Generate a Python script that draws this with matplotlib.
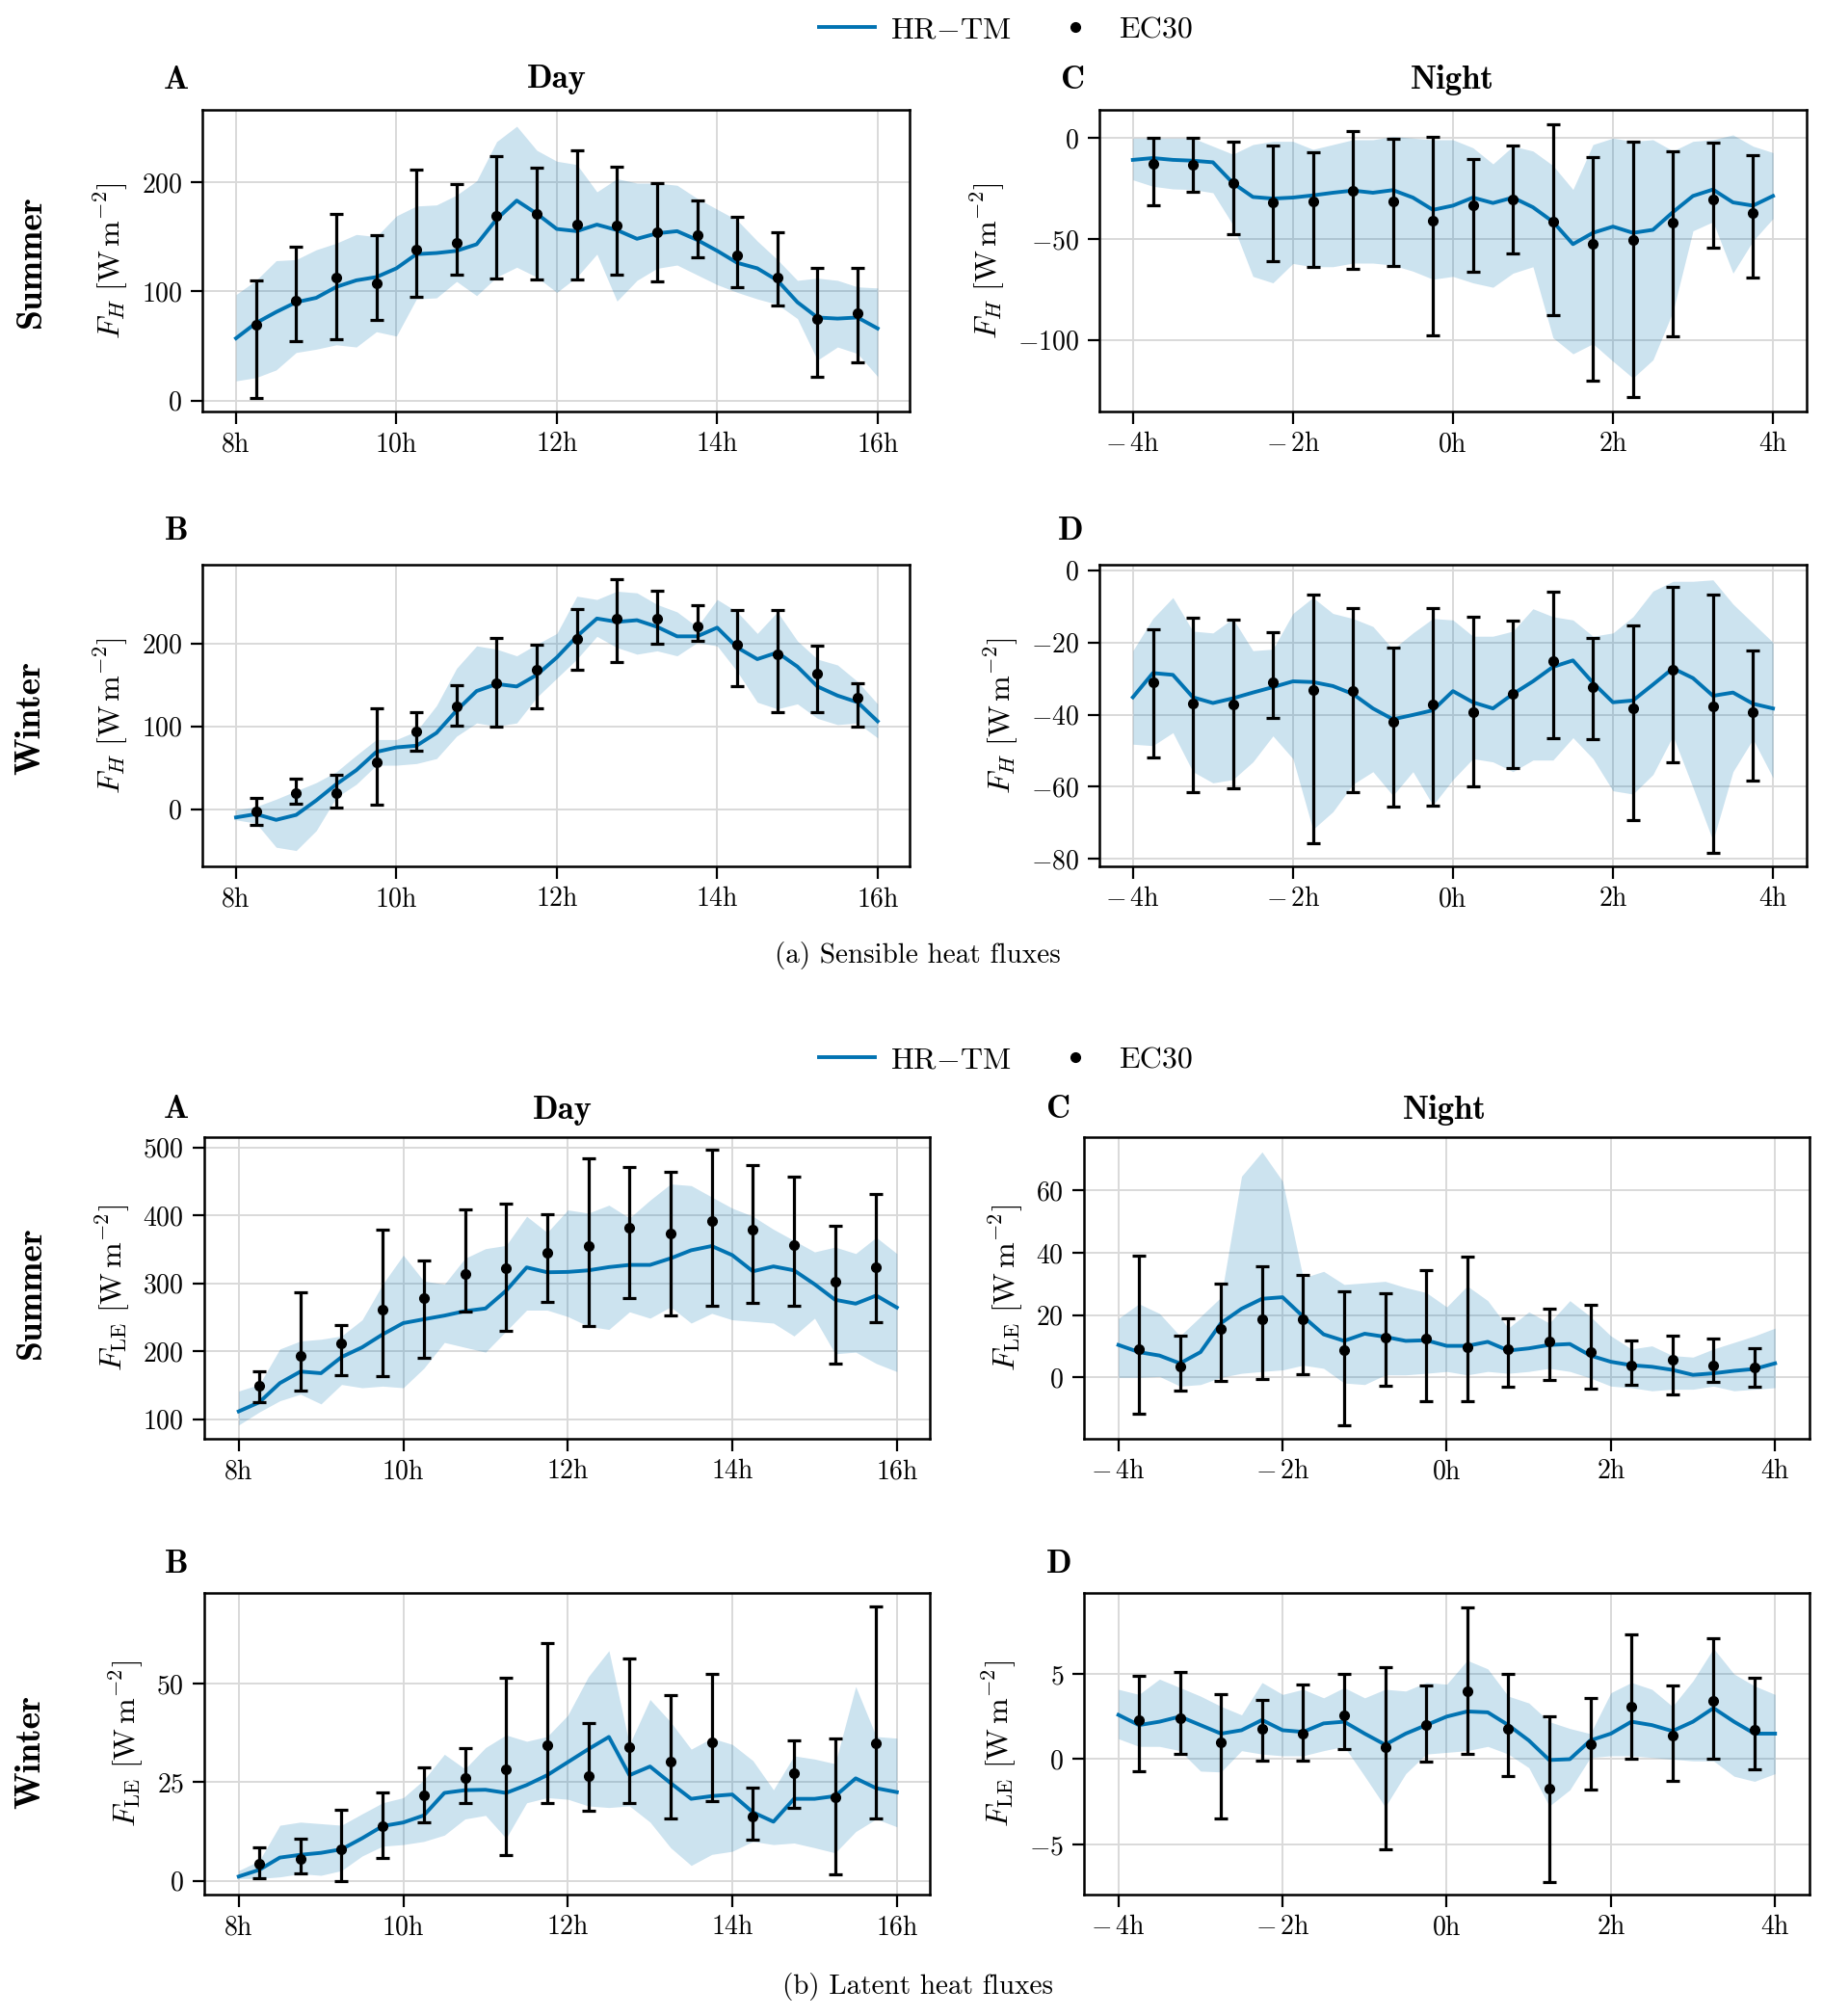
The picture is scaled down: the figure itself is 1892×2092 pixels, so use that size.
import numpy as np
import matplotlib
matplotlib.use("Agg")
import matplotlib.pyplot as plt
from matplotlib.lines import Line2D

plt.rcParams['font.family'] = 'cmr10'
plt.rcParams['mathtext.fontset'] = 'cm'
plt.rcParams['axes.unicode_minus'] = False
plt.rcParams['axes.formatter.use_mathtext'] = True

BLUE = '#0173B2'

# model time grid (15 min) and EC30 half-hour centres
t_day = np.arange(8, 16.01, 0.25)
t_night = np.arange(-4, 4.01, 0.25)
ec_day = np.arange(8.25, 16, 0.5)
ec_night = np.arange(-3.75, 4, 0.5)

# ---- sensible heat, summer day
sh_sd_line = [57, 71, 81, 90, 94, 104, 110, 113, 121, 134, 135, 137, 143, 166, 183, 171, 157,
              155, 161, 156, 148, 153, 155, 147, 137, 126, 121, 110, 90, 76, 75, 76, 66]
sh_sd_hi = [97, 110, 128, 129, 138, 144, 152, 150, 169, 178, 179, 188, 201, 237, 251, 229, 219,
            216, 191, 203, 199, 199, 197, 185, 175, 165, 146, 129, 110, 112, 110, 104, 103]
sh_sd_lo = [18, 21, 28, 44, 47, 51, 49, 63, 59, 93, 94, 109, 96, 113, 122, 113, 99,
            113, 134, 91, 110, 121, 124, 115, 106, 99, 93, 88, 75, 37, 49, 43, 22]
sh_sd_ec = [69, 91, 113, 107, 138, 144, 169, 171, 161, 160, 154, 151, 133, 113, 75, 80]
sh_sd_ec_hi = [110, 141, 171, 151, 211, 198, 224, 213, 229, 214, 199, 183, 168, 154, 121, 121]
sh_sd_ec_lo = [2, 54, 56, 74, 95, 115, 112, 111, 111, 115, 109, 131, 104, 87, 22, 35]

# ---- sensible heat, winter day
sh_wd_line = [-10, -6, -13, -7, 10.5, 30, 47, 69, 74.5, 76.5, 92, 119, 142.5, 151, 148, 162, 183,
              208.5, 230, 226, 228, 220, 208.5, 208.5, 219, 195, 181, 189, 172, 148, 137, 129, 106]
sh_wd_hi = [-1, 3, 12, 22, 32, 45, 65, 84, 84, 94, 125, 170, 197, 193, 185, 199, 212,
            257, 253, 263, 261, 247, 238, 220, 253, 238, 212, 238, 203, 181, 174, 154, 127]
sh_wd_lo = [-13, -17, -46, -50, -26, 14, 30, 53, 53, 55, 61, 88, 104, 100, 104, 135, 158,
            181, 208.5, 195, 187, 191, 185, 201, 197, 166, 129, 121, 127, 109.5, 102, 104, 86]
sh_wd_ec = [-2.3, 19, 19, 57, 94, 124, 152, 168, 205, 230, 230, 220, 198, 187, 163, 134]
sh_wd_ec_hi = [13, 36.5, 41.5, 122, 116.5, 149, 207, 198, 242, 278, 264, 246, 240, 240, 197, 152]
sh_wd_ec_lo = [-19, 6, 2, 5, 70, 101, 99, 122, 168, 177, 200, 203, 148, 116.5, 116.5, 100]

# ---- sensible heat, summer night
sh_sn_line = [-10.8, -9.9, -10.8, -11.2, -12, -22.3, -29.2, -30, -29.5, -28.4, -27.1, -26, -27.1,
              -25.8, -29.5, -35.6, -33.5, -29.5, -32.2, -29.5, -34.3, -41.5, -52.6, -47, -43.9,
              -47, -45.5, -36.7, -28.7, -25.5, -31.9, -33.5, -28.7]
sh_sn_hi = [0, 0, 0, 0, -4, -8, -3.2, -1.6, -1.6, -5.6, -3.2, -0.8, -0.8, 0.8, 0, -0.8, -0.8,
            -4.8, -12.8, -4, -6.4, -13.6, -25.5, -3.2, 0, -1.6, -0.8, -6.4, -1.6, -0.8, 1.6, -4, -7.2]
sh_sn_lo = [-20.7, -23.9, -25.2, -25.5, -27.1, -43, -68.6, -71.8, -62.2, -63.8, -63.8, -62, -62,
            -63, -66, -70, -68.6, -71.8, -74, -67, -63.8, -99, -107, -102, -110.7, -119, -110,
            -86, -46, -41.5, -67, -51, -39.9]
sh_sn_ec = [-12.8, -13.2, -22.3, -31.9, -31.4, -26.3, -31.6, -41.1, -33.2, -30.3, -41.5, -52.6,
            -50.7, -41.8, -30.6, -37.2]
sh_sn_ec_hi = [0, 0, -1.6, -3.7, -7.2, 3.5, -0.5, 0.5, -10.4, -3.5, 6.7, -9.2, -1.6, -6.4, -2.1, -8.3]
sh_sn_ec_lo = [-33.5, -26.6, -47.5, -61, -64, -65, -63.5, -97.8, -66.2, -57.4, -87.7, -120.4,
               -128.4, -98.1, -54.2, -69]

# ---- sensible heat, winter night
sh_wn_line = [-35.2, -28.5, -29, -35.2, -36.8, -35.5, -33.9, -32.4, -30.8, -31, -32.1, -34.3, -38.3,
              -41.3, -40.1, -38.8, -33.5, -36.6, -38.3, -34.3, -30.8, -26.8, -25, -31.2, -36.6,
              -36.1, -31.7, -27.2, -29.9, -34.8, -33.9, -37, -38.3]
sh_wn_hi = [-22.3, -13.4, -7.6, -16.9, -17.4, -13.4, -22.3, -21.9, -12, -7.6, -12, -13.4, -15.6,
            -21.9, -17.4, -13.4, -13.8, -18.3, -18.3, -16.9, -10.7, -12.9, -13.8, -18.3, -17.4,
            -12.9, -5.8, -3.1, -3.1, -2.7, -9.4, -14.7, -20]
sh_wn_lo = [-48.2, -48.6, -45, -55.8, -58.9, -58, -53.1, -45.9, -52.2, -71.8, -66.9, -59.3, -55.8,
            -62.4, -55.8, -65.1, -58, -52.2, -53.1, -55.8, -52.6, -52.6, -46.4, -52.2, -61.1, -62,
            -56.6, -45.9, -60.2, -74.9, -55.8, -46.8, -57.5]
sh_wn_ec = [-31, -36.8, -37.3, -31, -33.3, -33.5, -41.9, -37.3, -39.3, -34.3, -25.2, -32.4, -38.2,
            -27.6, -37.6, -39.4]
sh_wn_ec_hi = [-16.5, -13.2, -13.6, -17.1, -6.9, -10.4, -21.4, -10.4, -12.8, -14.1, -6, -18.7,
               -15.3, -4.6, -6.7, -22.3]
sh_wn_ec_lo = [-52, -61.6, -60.5, -41, -75.6, -61.6, -65.6, -65.3, -60, -54.7, -46.6, -46.7,
               -69.3, -53.3, -78.2, -58.3]

# ---- latent heat, summer day
le_sd_line = [111.4, 124.8, 153, 170, 167.6, 191.4, 205.7, 224.8, 241.4, 247, 252.4, 259, 262.9,
              289, 323.3, 316.2, 316.7, 319, 323.8, 327, 327, 336.7, 348.6, 354.8, 341.4, 317.6,
              324.8, 319, 298.6, 275.7, 270, 281.9, 264.3]
le_sd_hi = [141.4, 151, 203.3, 215, 217.6, 222.4, 246.2, 298.6, 341.4, 303.3, 298.6, 336.7, 351,
            355.7, 398.6, 374.8, 408, 403.3, 415, 396, 422.4, 446.2, 443.8, 427, 410.5, 398.6,
            379.5, 362.9, 346.2, 353.3, 343.8, 367.6, 343.8]
le_sd_lo = [91.4, 110.5, 127, 136.7, 122.4, 151, 146.2, 148.6, 146.2, 174.8, 212.9, 205.7, 198.6,
            229.5, 260.5, 260.5, 251, 236.7, 232, 258, 248.6, 265.2, 241.4, 255.7, 246.2, 243.8,
            241.4, 222.4, 248.6, 196.2, 198.6, 181.9, 170]
le_sd_ec = [148.6, 193.8, 211.4, 261.4, 278, 314.3, 322.4, 344.8, 354.8, 381.9, 373.3, 391.4,
            378.6, 355.7, 302.4, 323.8]
le_sd_ec_hi = [170, 286.7, 238, 379.5, 332.9, 409, 417.6, 401, 484.3, 471.4, 464.3, 496, 473.8,
               456.7, 384.3, 431]
le_sd_ec_lo = [124.8, 142.4, 165, 162.9, 190, 258, 229.5, 272.4, 236.7, 278.6, 253.3, 266.2,
               271.4, 266.7, 181.9, 242.9]

# ---- latent heat, winter day
le_wd_line = [1.1, 2.8, 5.9, 6.6, 7.1, 8, 10.8, 13.9, 14.8, 16.6, 22.3, 23, 23.1, 22.3, 24.3, 26.8,
              30.1, 33.4, 36.5, 26.8, 29, 24.8, 20.8, 21.5, 21.9, 17.4, 15, 20.8, 20.8, 21.5, 26,
              23.5, 22.5]
le_wd_hi = [2.6, 5.1, 14.1, 14.9, 14.5, 14.1, 17, 19.8, 21.1, 25.6, 32.1, 28.4, 33.8, 37, 35.4,
            36.6, 42, 51.8, 58.4, 34.6, 46, 40.3, 33.4, 36.2, 34.6, 30.5, 23.1, 31.7, 30.9, 29.7,
            49.3, 36.6, 36.2]
le_wd_lo = [0.6, 0.6, 1, 1.8, 1.4, 2.6, 6.3, 8.8, 9.2, 10, 11.6, 15.7, 16.6, 10.8, 19.8, 21.1,
            20.7, 19, 18.6, 19, 14.9, 8.4, 3.9, 6.7, 7.5, 10, 9.2, 9.6, 8.4, 7.1, 12.5, 15.7, 13.7]
le_wd_ec = [4.3, 5.5, 8, 13.9, 21.7, 26, 28.3, 34.4, 26.6, 33.9, 30.2, 35.2, 16.3, 27.4, 21.2, 34.8]
le_wd_ec_hi = [8.5, 10.8, 18, 22.5, 28.9, 33.6, 51.6, 60.2, 40.1, 56.5, 47, 52.6, 23.7, 35.6, 36, 69.6]
le_wd_ec_lo = [0.6, 1.8, -0.1, 5.7, 14.9, 19.8, 6.5, 19.7, 17.8, 19.8, 15.9, 20.2, 10.4, 18.4, 1.6, 15.9]

# ---- latent heat, summer night
le_sn_line = [10.4, 8.1, 7, 4.5, 8.1, 17.4, 22, 25.2, 25.7, 19.5, 13.8, 11.7, 14, 13, 11.7, 11.9,
              10.1, 10.1, 11.4, 8.6, 9.3, 10.4, 10.7, 7, 5, 3.9, 3.4, 2.4, 0.8, 1.3, 2.1, 2.7, 4.5]
le_sn_hi = [18.9, 23.6, 20.5, 13.3, 19.5, 25.7, 64.5, 72.3, 62.9, 31.9, 34, 29.8, 30.3, 30.8, 28.8,
            27.2, 22.6, 29.3, 24.6, 15.8, 21, 17.4, 24.6, 19.5, 13.3, 9.1, 10.1, 7, 6.5, 9.1, 11.2,
            13.3, 15.8]
le_sn_lo = [0, 0, 0.3, -2.8, -2.3, 0, 1.3, 1.9, 2.4, 3.9, 2.9, -1.8, -2.3, 0.8, 0.8, 1.3, 1.9, 0.8,
            1.9, 1.3, 1.9, 2.9, 1.9, -0.2, -2.8, -3.3, -4.3, -3.8, -3.8, -2.8, -4.3, -3.8, -3.3]
le_sn_ec = [8.9, 3.4, 15.5, 18.6, 18.6, 8.6, 12.7, 12.4, 9.6, 8.9, 11.4, 8.1, 3.9, 5.8, 3.7, 3.1]
le_sn_ec_hi = [38.9, 13.5, 30.1, 35.7, 32.9, 27.7, 26.9, 34.5, 38.6, 18.9, 22, 23.4, 11.7, 13.5, 12.5, 9.4]
le_sn_ec_lo = [-11.6, -4.1, -1, -0.4, 1.1, -15.5, -2.8, -7.7, -7.5, -3, -0.9, -3.6, -2.3, -5.6, -1.4, -3]

# ---- latent heat, winter night
le_wn_line = [2.6, 2.0, 2.2, 2.5, 2.0, 1.5, 1.7, 2.3, 1.7, 1.6, 2.1, 2.2, 1.5, 0.85, 1.5, 2.0, 2.5,
              2.8, 2.75, 2.0, 1.1, -0.05, 0.0, 1.1, 1.5, 2.2, 2.0, 1.65, 2.2, 3.0, 2.2, 1.5, 1.5]
le_wn_hi = [4.1, 3.8, 4.7, 4.2, 3.7, 3.1, 2.6, 4.5, 3.8, 4.1, 3.6, 4.2, 3.6, 4.1, 4.0, 4.5, 4.4, 5.8,
            5.3, 3.7, 3.3, 2.2, 1.8, 1.5, 3.9, 4.5, 4.1, 3.1, 4.6, 6.5, 5.0, 4.3, 3.8]
le_wn_lo = [1.2, 0.75, 0.75, 0.5, -0.7, -0.75, 0.5, 0.3, 0.2, 0.2, 0.5, 0.75, -1.0, -2.8, -0.85,
            0.3, 0.4, 0.5, 0.75, 0.3, -0.5, -2.75, -1.8, 0.1, 0.2, 0.2, 0.1, 0, -0.1, -0.1, -1.0,
            -1.3, -0.85]
le_wn_ec = [2.3, 2.4, 1.0, 1.8, 1.5, 2.6, 0.7, 2.0, 4.0, 1.8, -1.7, 0.9, 3.1, 1.4, 3.4, 1.7]
le_wn_ec_hi = [4.9, 5.1, 3.8, 3.5, 4.4, 5.0, 5.4, 4.3, 8.9, 5.0, 2.5, 3.6, 7.3, 4.3, 7.1, 4.8]
le_wn_ec_lo = [-0.7, 0.3, -3.5, -0.1, -0.1, 0.6, -5.3, -0.15, 0.3, -1.0, -7.2, -1.8, 0.05, -1.3, 0.05, -0.6]

day_ticks = [8, 10, 12, 14, 16]
day_labels = ['8h', '10h', '12h', '14h', '16h']
night_ticks = [-4, -2, 0, 2, 4]
night_labels = [r'$-\,$4h', r'$-\,$2h', '0h', '2h', '4h']

FS = 20
YL_H = r'$F_H\ [\mathrm{W\,m}^{-2}]$'
YL_LE = r'$F_{\mathrm{LE}}\ [\mathrm{W\,m}^{-2}]$'


def panel(fig, rect, t, line, lo, hi, te, ec, ec_lo, ec_hi, ylim, yticks, ylabel, night):
    ax = fig.add_axes(rect)
    ax.fill_between(t, lo, hi, color=BLUE, alpha=0.2, linewidth=0, zorder=1)
    ax.plot(t, line, color=BLUE, lw=2.8, zorder=2)
    ec = np.array(ec)
    yerr = [ec - np.array(ec_lo), np.array(ec_hi) - ec]
    ax.errorbar(te, ec, yerr=yerr, fmt='o', color='black', ms=7, elinewidth=2.3,
                capsize=5, capthick=2.3, zorder=3)
    if night:
        ax.set_xlim(-4.42, 4.42)
        ax.set_xticks(night_ticks)
        ax.set_xticklabels(night_labels)
    else:
        ax.set_xlim(7.58, 16.4)
        ax.set_xticks(day_ticks)
        ax.set_xticklabels(day_labels)
    ax.set_ylim(*ylim)
    ax.set_yticks(yticks)
    ax.grid(True, color='#d9d9d9', lw=1.4)
    ax.set_axisbelow(True)
    for s in ax.spines.values():
        s.set_linewidth(1.8)
    ax.tick_params(direction='out', length=9, width=1.6, labelsize=FS, pad=6)
    ax.set_ylabel(ylabel, fontsize=FS + 3, labelpad=8)
    return ax


fig = plt.figure(figsize=(18.92, 20.92), dpi=100)

L1, L2 = 0.111, 0.603
W = 0.388
H = 0.1496

# (a) sensible heat
panel(fig, [L1, 0.7959, W, H], t_day, sh_sd_line, sh_sd_lo, sh_sd_hi, ec_day,
      sh_sd_ec, sh_sd_ec_lo, sh_sd_ec_hi, (-10, 266), [0, 100, 200], YL_H, False)
panel(fig, [L1, 0.5703, W, H], t_day, sh_wd_line, sh_wd_lo, sh_wd_hi, ec_day,
      sh_wd_ec, sh_wd_ec_lo, sh_wd_ec_hi, (-69, 295), [0, 100, 200], YL_H, False)
panel(fig, [L2, 0.7959, W, H], t_night, sh_sn_line, sh_sn_lo, sh_sn_hi, ec_night,
      sh_sn_ec, sh_sn_ec_lo, sh_sn_ec_hi, (-135.6, 14), [-100, -50, 0], YL_H, True)
panel(fig, [L2, 0.5703, W, H], t_night, sh_wn_line, sh_wn_lo, sh_wn_hi, ec_night,
      sh_wn_ec, sh_wn_ec_lo, sh_wn_ec_hi, (-82, 1.5), [-80, -60, -40, -20, 0], YL_H, True)

# (b) latent heat
L1b, L2b = 0.112, 0.5946
Wb = 0.398
panel(fig, [L1b, 0.2863, Wb, H], t_day, le_sd_line, le_sd_lo, le_sd_hi, ec_day,
      le_sd_ec, le_sd_ec_lo, le_sd_ec_hi, (71, 515), [100, 200, 300, 400, 500], YL_LE, False)
panel(fig, [L1b, 0.0602, Wb, H], t_day, le_wd_line, le_wd_lo, le_wd_hi, ec_day,
      le_wd_ec, le_wd_ec_lo, le_wd_ec_hi, (-3.5, 73), [0, 25, 50], YL_LE, False)
panel(fig, [L2b, 0.2863, Wb, H], t_night, le_sn_line, le_sn_lo, le_sn_hi, ec_night,
      le_sn_ec, le_sn_ec_lo, le_sn_ec_hi, (-19.7, 77), [0, 20, 40, 60], YL_LE, True)
panel(fig, [L2b, 0.0602, Wb, H], t_night, le_wn_line, le_wn_lo, le_wn_hi, ec_night,
      le_wn_ec, le_wn_ec_lo, le_wn_ec_hi, (-7.95, 9.75), [-5, 0, 5], YL_LE, True)

# labels and headers
bold = dict(fontfamily='cmb10', fontsize=25, ha='center', va='center')


def px(x, y):
    return x / 1892, 1 - y / 2092


for (x, y, s) in [(183, 83, 'A'), (578, 83, 'Day'), (1114, 83, 'C'), (1507, 83, 'Night'),
                  (183, 552, 'B'), (1111, 552, 'D'),
                  (183, 1152, 'A'), (584, 1152, 'Day'), (1099, 1152, 'C'), (1499, 1152, 'Night'),
                  (183, 1623, 'B'), (1099, 1623, 'D')]:
    fig.text(*px(x, y), s, **bold)

for (y, s) in [(271, 'Summer'), (745, 'Winter'), (1341, 'Summer'), (1818, 'Winter')]:
    fig.text(*px(32, y), s, rotation=90, **dict(bold, fontsize=27))

fig.text(*px(952, 992), '(a) Sensible heat fluxes', fontsize=FS + 1, ha='center', va='center')
fig.text(*px(952, 2062), '(b) Latent heat fluxes', fontsize=FS + 1, ha='center', va='center')

handles = [Line2D([], [], color=BLUE, lw=2.8),
           Line2D([], [], color='black', marker='o', ms=7, ls='none')]
names = [r'HR$-$TM', 'EC30']
for yc in (31, 1100):
    fig.legend(handles, names, loc='center', bbox_to_anchor=px(1044, yc), ncol=2,
               frameon=False, fontsize=23, handlelength=1.8, columnspacing=1.2,
               handletextpad=0.5)

fig.savefig('out.png', dpi=100)
